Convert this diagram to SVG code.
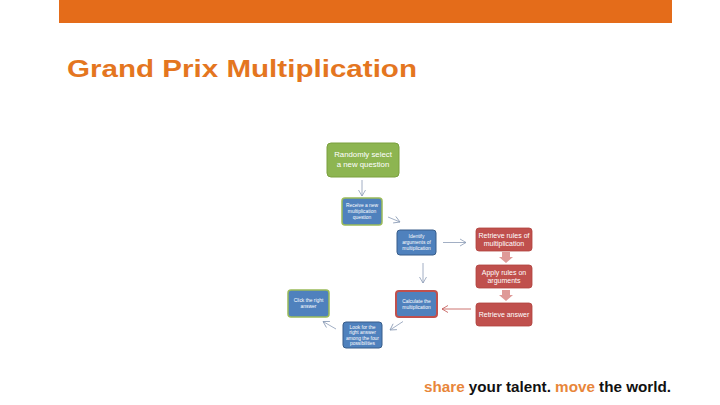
<svg xmlns="http://www.w3.org/2000/svg" width="720" height="405" viewBox="0 0 720 405">
<defs>
<style>
.bt{font-family:"Liberation Sans",Arial,sans-serif;fill:#fff;text-anchor:middle}
.sm{font-size:4.9px}
.rd{font-size:7px}
.conn{fill:none;stroke:#8a9bb5;stroke-width:0.8}
.connr{fill:none;stroke:#c0504d;stroke-width:0.8}
.blue{fill:#4f81bd;stroke:#385d8a;stroke-width:1}
.red{fill:#c0504d;stroke:#b0413e;stroke-width:0.8}
.blk{fill:#df9a98}
</style>
<marker id="ah" markerWidth="9" markerHeight="9" refX="7" refY="4.5" orient="auto" markerUnits="userSpaceOnUse">
<path d="M1,1 L7,4.5 L1,8" fill="none" stroke="#8a9bb5" stroke-width="0.8"/>
</marker>
<marker id="ahr" markerWidth="9" markerHeight="9" refX="7" refY="4.5" orient="auto" markerUnits="userSpaceOnUse">
<path d="M1,1 L7,4.5 L1,8" fill="none" stroke="#c0504d" stroke-width="0.8"/>
</marker>
</defs>
<rect width="720" height="405" fill="#fff"/>
<rect x="59" y="0" width="613" height="23" fill="#e46c1a"/>
<text x="67" y="77" font-family="Liberation Sans,Arial,sans-serif" font-weight="bold" font-size="24" fill="#e4761f" textLength="350" lengthAdjust="spacingAndGlyphs">Grand Prix Multiplication</text>

<g id="connectors">
<line class="conn" x1="362" y1="180" x2="362" y2="196" marker-end="url(#ah)"/>
<line class="conn" x1="388" y1="217" x2="400" y2="222" marker-end="url(#ah)"/>
<line class="conn" x1="443" y1="242.5" x2="466" y2="242.5" marker-end="url(#ah)"/>
<line class="conn" x1="423" y1="263" x2="423" y2="283" marker-end="url(#ah)"/>
<line class="connr" x1="471" y1="309" x2="442" y2="309" marker-end="url(#ahr)"/>
<line class="conn" x1="403" y1="321.5" x2="390" y2="330" marker-end="url(#ah)"/>
<line class="conn" x1="336" y1="329" x2="323" y2="321.5" marker-end="url(#ah)"/>
<path class="blk" d="M502,252 H510 V257 H513 L506,263 L499,257 H502 Z"/>
<path class="blk" d="M502,290 H510 V295 H513 L506,301 L499,295 H502 Z"/>
</g>

<g id="random">
<rect x="327" y="143" width="72" height="34" rx="4" fill="#8db551" stroke="#7aa03f" stroke-width="1"/>
<text class="bt" x="363" y="157" font-size="7.8">Randomly select</text>
<text class="bt" x="363" y="167" font-size="7.8">a new question</text>
</g>

<g id="receive">
<rect x="342" y="198" width="40" height="27" rx="3" fill="#4f81bd" stroke="#9bbb59" stroke-width="1.5"/>
<text class="bt sm" x="362" y="207">Receive a new</text>
<text class="bt sm" x="362" y="213">multiplication</text>
<text class="bt sm" x="362" y="219">question</text>
</g>

<g id="identify">
<rect class="blue" x="397" y="230" width="39" height="25" rx="3"/>
<text class="bt sm" x="416.5" y="238">Identify</text>
<text class="bt sm" x="416.5" y="244">arguments of</text>
<text class="bt sm" x="416.5" y="250">multiplication</text>
</g>

<g id="calculate">
<rect x="396" y="291" width="41" height="26" rx="3" fill="#4f81bd" stroke="#c0504d" stroke-width="2"/>
<text class="bt sm" x="416.5" y="303">Calculate the</text>
<text class="bt sm" x="416.5" y="309">multiplication</text>
</g>

<g id="look">
<rect class="blue" x="343" y="322" width="39" height="26" rx="3"/>
<text class="bt sm" x="362.5" y="328.5">Look for the</text>
<text class="bt sm" x="362.5" y="334">right answer</text>
<text class="bt sm" x="362.5" y="339.5">among the four</text>
<text class="bt sm" x="362.5" y="345">possibilities</text>
</g>

<g id="click">
<rect x="288" y="290" width="41" height="27" rx="3" fill="#4f81bd" stroke="#9bbb59" stroke-width="1.5"/>
<text class="bt sm" x="308.5" y="302">Click the right</text>
<text class="bt sm" x="308.5" y="308">answer</text>
</g>

<g id="retrieveRules">
<rect class="red" x="476" y="228" width="56" height="23" rx="3"/>
<text class="bt rd" x="504" y="237.5">Retrieve rules of</text>
<text class="bt rd" x="504" y="246">multiplication</text>
</g>

<g id="applyRules">
<rect class="red" x="476" y="265" width="56" height="23" rx="3"/>
<text class="bt rd" x="504" y="274.5">Apply rules on</text>
<text class="bt rd" x="504" y="283">arguments</text>
</g>

<g id="retrieveAnswer">
<rect class="red" x="476" y="303" width="56" height="23" rx="3"/>
<text class="bt rd" x="504" y="317">Retrieve answer</text>
</g>

<text x="424" y="392" font-family="Liberation Sans,Arial,sans-serif" font-weight="bold" font-size="14" textLength="247" lengthAdjust="spacingAndGlyphs"><tspan fill="#e8863a">share</tspan><tspan fill="#111"> your talent. </tspan><tspan fill="#e8863a">move</tspan><tspan fill="#111"> the world.</tspan></text>
</svg>
